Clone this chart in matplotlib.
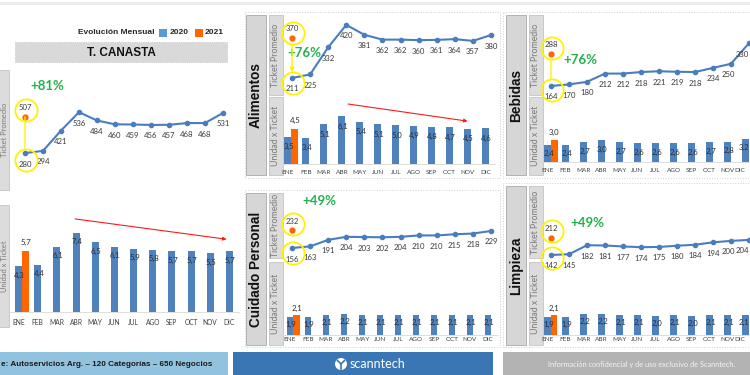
import matplotlib
matplotlib.use('Agg')
import matplotlib.pyplot as plt
from matplotlib.patches import Rectangle, Circle
import matplotlib.transforms as mtrans
import numpy as np

plt.rcParams['font.family'] = ['Lato', 'DejaVu Sans']

# ---------------- data ----------------
months = ['ENE', 'FEB', 'MAR', 'ABR', 'MAY', 'JUN', 'JUL', 'AGO', 'SEP', 'OCT', 'NOV', 'DIC']

canasta_ticket = [280, 294, 421, 536, 484, 460, 459, 456, 457, 468, 468, 531]
canasta_ticket_2021 = 507
canasta_units = [4.3, 4.4, 6.1, 7.4, 6.5, 6.1, 5.9, 5.8, 5.7, 5.7, 5.5, 5.7]
canasta_units_2021 = 5.7

alimentos_ticket = [211, 225, 332, 420, 381, 362, 362, 360, 361, 364, 357, 380]
alimentos_ticket_2021 = 370
alimentos_units = [3.5, 3.4, 5.1, 6.1, 5.4, 5.1, 5.0, 4.9, 4.8, 4.7, 4.5, 4.6]
alimentos_units_2021 = 4.5

bebidas_ticket = [164, 170, 180, 212, 212, 218, 221, 219, 218, 234, 250, 330]
bebidas_ticket_2021 = 288
bebidas_units = [2.4, 2.4, 2.7, 3.0, 2.7, 2.6, 2.6, 2.6, 2.6, 2.7, 2.8, 3.2]
bebidas_units_2021 = 3.0

cuidado_ticket = [156, 163, 191, 204, 203, 202, 204, 210, 210, 215, 218, 229]
cuidado_ticket_2021 = 232
cuidado_units = [1.9, 1.9, 2.1, 2.2, 2.1, 2.1, 2.1, 2.1, 2.1, 2.1, 2.1, 2.1]
cuidado_units_2021 = 2.1

limpieza_ticket = [142, 145, 182, 181, 177, 174, 175, 180, 184, 194, 200, 204]
limpieza_ticket_2021 = 212
limpieza_units = [1.9, 1.9, 2.2, 2.2, 2.1, 2.1, 2.0, 2.1, 2.0, 2.1, 2.1, 2.1]
limpieza_units_2021 = 2.1

growth = {'canasta': '+81%', 'alimentos': '+76%', 'bebidas': '+76%',
          'cuidado': '+49%', 'limpieza': '+49%'}

# ---------------- style ----------------
W, H = 750, 375
BLUE = '#4a7dbf'
BAR = '#4f81bd'
ORANGE = '#ff6600'
YELLOW = '#fff200'
GREEN = '#22b24c'
TXT = '#3a3a3a'
RED = '#ff1a1a'

fig = plt.figure(figsize=(W / 100, H / 100), dpi=100)
fig.patch.set_facecolor('white')

bg = fig.add_axes([0, 0, 1, 1], zorder=0)
bg.set_xlim(0, W)
bg.set_ylim(H, 0)
bg.axis('off')


def px_axes(l, t, r, b):
    ax = fig.add_axes([l / W, 1 - b / H, (r - l) / W, (b - t) / H], zorder=2)
    ax.patch.set_alpha(0)
    return ax


def rect(x0, y0, x1, y1, fc, ec='none', lw=0.6, ls='-', z=1):
    bg.add_patch(Rectangle((x0, y0), x1 - x0, y1 - y0, facecolor=fc,
                           edgecolor=ec, lw=lw, ls=ls, zorder=z))


def vlabel(x0, y0, x1, y1, text, fs, bold=False, color='#7a7a7a',
           fc='#dcdcdc', ec='#c4c4c4', tx=None, family='Lato'):
    rect(x0, y0, x1, y1, fc, ec)
    cx = (x0 + x1) / 2 if tx is None else tx
    bg.text(cx, (y0 + y1) / 2, text, rotation=90, ha='center', va='center',
            fontsize=fs, color=color, fontweight='bold' if bold else 'normal',
            family=family, zorder=3)


def fmt(v):
    return f'{v:.1f}'.replace('.', ',')


def line_panel(box, ylim, vals, v21, pct, pct_xy, link=None, up=6, down=-5,
               clamp_last=False):
    ax = px_axes(*box)
    ax.set_xlim(-0.5, 11.5)
    ax.set_ylim(*ylim)
    ax.axis('off')
    x = np.arange(len(vals))
    ax.plot(x, vals, color=BLUE, lw=1.5, marker='o', ms=3, clip_on=False, zorder=3)
    n = len(vals)
    for i, v in enumerate(vals):
        last = clamp_last and i == n - 1
        dx = -3 if (clamp_last and i == n - 2) else 0
        ax.annotate(str(v), (i, v), xytext=(dx, -11),
                    textcoords='offset pixels',
                    ha='right' if last else 'center', va='center', fontsize=5.6,
                    color=TXT, annotation_clip=False, zorder=4)
    ax.plot([0], [v21], 'o', color=ORANGE, ms=3.5, zorder=4)
    ax.annotate(str(v21), (0, v21), xytext=(0, 9), textcoords='offset pixels',
                ha='center', va='center', fontsize=5.6, color=TXT, zorder=4)
    tr_up = mtrans.offset_copy(ax.transData, fig=fig, x=1, y=up, units='dots')
    tr_dn = mtrans.offset_copy(ax.transData, fig=fig, x=1, y=down, units='dots')
    ax.plot([0], [v21], 'o', ms=16, mfc='none', mec=YELLOW, mew=1.3,
            transform=tr_up, clip_on=False, zorder=5)
    ax.plot([0], [vals[0]], 'o', ms=16, mfc='none', mec=YELLOW, mew=1.3,
            transform=tr_dn, clip_on=False, zorder=5)
    if link is not None:
        style, sa, sb = link
        ax.annotate('', xy=(0, vals[0]), xytext=(0, v21),
                    arrowprops=dict(arrowstyle=style, color=YELLOW, lw=1.0,
                                    shrinkA=sa, shrinkB=sb, mutation_scale=6),
                    zorder=5)
    bg.text(pct_xy[0], pct_xy[1], pct, ha='center', va='center', fontsize=9.5,
            fontweight='bold', color=GREEN, zorder=6)
    return ax


def bar_panel(box, ylim, vals, v21, width, lab_in=9, lab_up=8, pad=4, tfs=4.6,
              bfs=5.6, clamp_last=False):
    ax = px_axes(*box)
    ax.set_xlim(-0.5, 11.5)
    ax.set_ylim(*ylim)
    x = np.arange(len(vals))
    ax.bar(x, vals, width=width, color=BAR, zorder=2)
    ax.bar([width], [v21], width=width, color=ORANGE, zorder=2)
    for i, v in enumerate(vals):
        last = clamp_last and i == len(vals) - 1
        ax.annotate(fmt(v), (i, v), xytext=(4 if last else 1, -lab_in),
                    textcoords='offset pixels', ha='right' if last else 'center',
                    va='center', fontsize=bfs, color='#2e2e2e', zorder=4)
    ax.annotate(fmt(v21), (width, v21), xytext=(0, lab_up), textcoords='offset pixels',
                ha='center', va='center', fontsize=bfs, color='#2e2e2e', zorder=4)
    ax.set_xticks(x)
    labels = ax.set_xticklabels(months, fontsize=tfs, color='#404040')
    if clamp_last:
        labels[-1].set_horizontalalignment('right')
        labels[-1].set_x(11.3)
    ax.tick_params(axis='x', length=0, pad=pad)
    ax.set_yticks([])
    for s in ['top', 'right', 'left']:
        ax.spines[s].set_visible(False)
    ax.spines['bottom'].set_color('#d9d9d9')
    ax.spines['bottom'].set_linewidth(0.6)
    return ax


# ---------------- decorations ----------------
rect(0, 2, W, 5, '#ececec')

# Legend
bg.text(154, 33, 'Evolución Mensual', ha='right', va='center', fontsize=6,
        fontweight='bold', color='#262626', family='Liberation Sans')
rect(159, 29, 167, 37, '#5b9bd5')
bg.text(170, 33, '2020', ha='left', va='center', fontsize=6, fontweight='bold',
        color='#262626', family='Liberation Sans')
rect(195, 29, 203, 37, ORANGE)
bg.text(205, 33, '2021', ha='left', va='center', fontsize=6, fontweight='bold',
        color='#262626', family='Liberation Sans')

# T. CANASTA title
rect(15, 42, 227, 62, '#d9d9d9', '#bdbdbd', lw=0.6, ls=':')
bg.text(121, 52.5, 'T. CANASTA', ha='center', va='center', fontsize=8.5,
        fontweight='bold', color='#111111', family='Liberation Sans')

# left side labels
vlabel(-8, 70, 9, 190, 'Ticket Promedio', 5.4, tx=4.8)
vlabel(-8, 205, 9, 327, 'Unidad x Ticket', 5.4, tx=4.8)

# panel borders
for (x0, y0, x1, y1) in [(245, 12, 500, 178), (245, 190, 500, 347),
                         (503, 12, 760, 178), (503, 183, 760, 347)]:
    rect(x0, y0, x1, y1, 'none', '#cfcfcf', lw=0.7, ls=':')

# category labels
for (x0, y0, x1, y1, name) in [(246, 15, 266, 175, 'Alimentos'),
                               (246, 193, 266, 345, 'Cuidado Personal'),
                               (506, 15, 526, 175, 'Bebidas'),
                               (506, 186, 526, 345, 'Limpieza')]:
    vlabel(x0, y0, x1, y1, name, 9.8, bold=True, color='#111111',
           fc='#d6d6d6', ec='#a9a9a9', family='Liberation Sans')

for (x0, y0, x1, y1, name) in [(269, 15, 283, 95, 'Ticket Promedio'),
                               (269, 97, 283, 175, 'Unidad x Ticket'),
                               (269, 193, 283, 258, 'Ticket Promedio'),
                               (269, 262, 283, 345, 'Unidad x Ticket'),
                               (529, 15, 543, 95, 'Ticket Promedio'),
                               (529, 97, 543, 175, 'Unidad x Ticket'),
                               (529, 186, 543, 258, 'Ticket Promedio'),
                               (529, 262, 543, 345, 'Unidad x Ticket')]:
    vlabel(x0, y0, x1, y1, name, 6.3)

# footer
rect(0, 352, 228, 376, '#92c3de')
bg.text(1, 364.5, 'e: Autoservicios Arg. – 120 Categorías – 650 Negocios',
        ha='left', va='center', fontsize=5.9, fontweight='bold',
        color='#1a1a1a', family='Liberation Sans')
rect(233, 352, 493, 376, '#3b76b4')
bg.add_patch(Circle((341, 364), 6, facecolor='white', edgecolor='none', zorder=3))
bg.plot([337.5, 341, 344.5], [360.5, 364, 360.5], color='#3b76b4', lw=1.2, zorder=4)
bg.plot([341, 341], [364, 368.5], color='#3b76b4', lw=1.2, zorder=4)
bg.text(350, 363.5, 'scanntech', ha='left', va='center', fontsize=9,
        color='white', zorder=3)
rect(503, 352, 760, 376, '#b3b3b3')
bg.text(642, 364, 'Información confidencial y de uso exclusivo de Scanntech.',
        ha='center', va='center', fontsize=5.3, color='#f4f4f4')

# ---------------- charts ----------------
# T. CANASTA
line_panel((16, 70, 232, 190), (49, 800), canasta_ticket, canasta_ticket_2021,
           growth['canasta'], (47, 86), link=('-', 0, 3.6), up=7, down=-7)
axb = bar_panel((9, 205, 239, 312), (0, 10), canasta_units, canasta_units_2021,
                0.365, lab_in=9, lab_up=9, pad=5.3, tfs=4.8)
axb.annotate('', xy=(10.85, 6.8), xytext=(2.95, 8.7),
             arrowprops=dict(arrowstyle='-|>', color=RED, lw=0.8, mutation_scale=5,
                             shrinkA=0, shrinkB=0), annotation_clip=False)

# Alimentos
line_panel((283, 15, 500, 95), (144, 459), alimentos_ticket, alimentos_ticket_2021,
           growth['alimentos'], (304, 53), link=('-|>', 4.3, 4.3), up=5, down=-5)
axb = bar_panel((279, 97, 494.5, 164), (0, 8.6), alimentos_units, alimentos_units_2021,
                0.39, lab_in=10, lab_up=8, pad=4)
axb.annotate('', xy=(10.0, 5.5), xytext=(3.35, 7.7),
             arrowprops=dict(arrowstyle='-|>', color=RED, lw=0.8, mutation_scale=5,
                             shrinkA=0, shrinkB=0), annotation_clip=False)

# Cuidado Personal
line_panel((283, 193, 500, 262), (96, 392), cuidado_ticket, cuidado_ticket_2021,
           growth['cuidado'], (319, 201), up=6, down=-5)
bar_panel((281, 262, 497, 335), (0, 7.7), cuidado_units, cuidado_units_2021,
          0.37, lab_in=7, lab_up=7, pad=1.5)

# Bebidas
line_panel((542, 15, 758, 95), (129, 439), bebidas_ticket, bebidas_ticket_2021,
           growth['bebidas'], (580, 60), link=('-', 4.3, 5), up=6, down=-4,
           clamp_last=True)
bar_panel((538.5, 97, 754.5, 162), (0, 9.0), bebidas_units, bebidas_units_2021,
          0.39, lab_in=9, lab_up=8, pad=4, clamp_last=True)

# Limpieza
line_panel((542, 186, 758, 262), (113, 426), limpieza_ticket, limpieza_ticket_2021,
           growth['limpieza'], (587, 223), up=7, down=-3, clamp_last=True)
bar_panel((538.5, 262, 754.5, 335), (0, 7.7), limpieza_units, limpieza_units_2021,
          0.37, lab_in=7, lab_up=7, pad=1.5, clamp_last=True)

fig.savefig('out.png', dpi=100, facecolor='white')
